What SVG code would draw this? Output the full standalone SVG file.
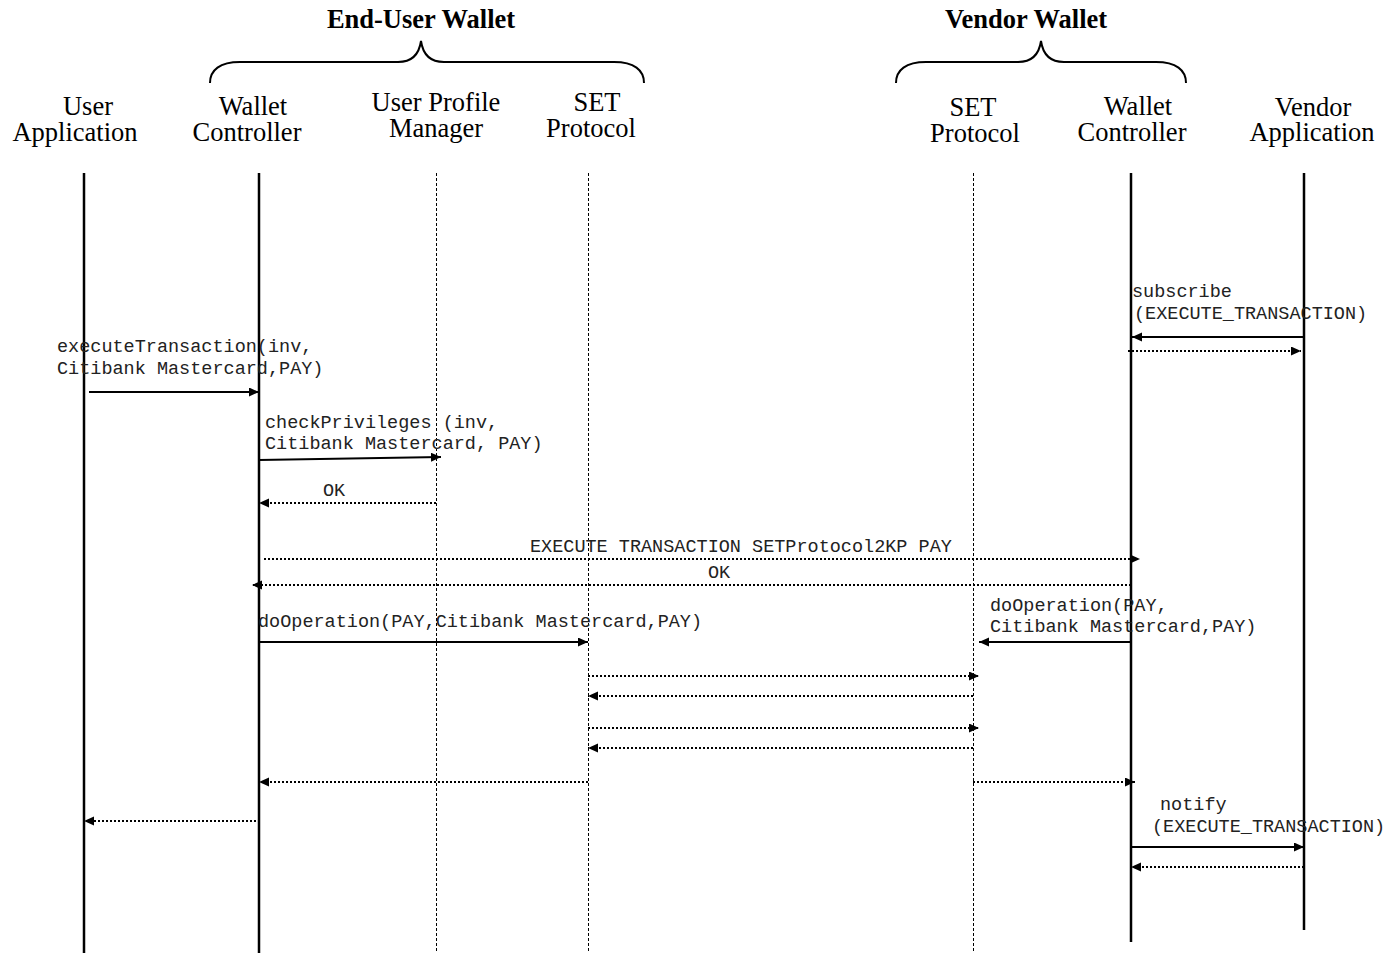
<svg xmlns="http://www.w3.org/2000/svg" width="1383" height="953" viewBox="0 0 1383 953">
<style>
.hdr{font-family:"Liberation Serif","Times New Roman",serif;font-size:26.5px;fill:#000;text-anchor:middle}
.ttl{font-family:"Liberation Serif","Times New Roman",serif;font-size:26.5px;font-weight:bold;fill:#000;text-anchor:middle}
.msg{font-family:"Liberation Mono","Courier New",monospace;font-size:18.5px;fill:#222}
.solid{stroke:#000;stroke-width:2.5;fill:none}
.dash{stroke:#000;stroke-width:1;stroke-dasharray:3,2;fill:none}
.call{stroke:#000;stroke-width:2;fill:none;marker-end:url(#ah)}
.ret{stroke:#000;stroke-width:2;stroke-dasharray:2,2;fill:none;marker-end:url(#ah)}
.brace{stroke:#000;stroke-width:2;fill:none}
</style>
<defs>
<marker id="ah" markerUnits="userSpaceOnUse" markerWidth="11" markerHeight="10" refX="10" refY="4.5" orient="auto">
<path d="M0,0 L10,4.5 L0,9 z" fill="#000"/>
</marker>
</defs>
<rect width="1383" height="953" fill="#fff"/>
<g id="group-enduser">
<text class="ttl" x="421" y="28">End-User Wallet</text>
<path class="brace" d="M210,83 C210,70 220,62 240,62 L398,62 C412,62 419,55 421,41 C423,55 430,62 444,62 L614,62 C634,62 644,70 644,83"/>
</g>
<g id="group-vendor">
<text class="ttl" x="1026" y="28">Vendor Wallet</text>
<path class="brace" d="M896,83 C896,70 906,62 926,62 L1018,62 C1032,62 1039,55 1041,41 C1043,55 1050,62 1064,62 L1156,62 C1176,62 1186,70 1186,83"/>
</g>
<g id="user-application">
<text class="hdr"><tspan x="88" y="115">User</tspan><tspan x="75" y="141">Application</tspan></text>
<line class="solid" x1="84" y1="173" x2="84" y2="953"/>
</g>
<g id="wallet-controller-left">
<text class="hdr"><tspan x="253" y="115">Wallet</tspan><tspan x="247" y="141">Controller</tspan></text>
<line class="solid" x1="259" y1="173" x2="259" y2="953"/>
</g>
<g id="user-profile-manager">
<text class="hdr"><tspan x="436" y="111">User Profile</tspan><tspan x="436" y="137">Manager</tspan></text>
<line class="dash" x1="436.5" y1="173" x2="436.5" y2="953"/>
</g>
<g id="set-protocol-left">
<text class="hdr"><tspan x="597" y="111">SET</tspan><tspan x="591" y="137">Protocol</tspan></text>
<line class="dash" x1="588.5" y1="173" x2="588.5" y2="953"/>
</g>
<g id="set-protocol-right">
<text class="hdr"><tspan x="973" y="116">SET</tspan><tspan x="975" y="142">Protocol</tspan></text>
<line class="dash" x1="973.5" y1="173" x2="973.5" y2="953"/>
</g>
<g id="wallet-controller-right">
<text class="hdr"><tspan x="1138" y="115">Wallet</tspan><tspan x="1132" y="141">Controller</tspan></text>
<line class="solid" x1="1131" y1="173" x2="1131" y2="942"/>
</g>
<g id="vendor-application">
<text class="hdr"><tspan x="1313" y="116">Vendor</tspan><tspan x="1312" y="141">Application</tspan></text>
<line class="solid" x1="1304" y1="173" x2="1304" y2="930"/>
</g>
<g id="connectors">
<text class="msg"><tspan x="1132" y="297">subscribe</tspan><tspan x="1134" y="319">(EXECUTE_TRANSACTION)</tspan></text>
<line class="call" x1="1304" y1="337" x2="1132" y2="337"/>
<line class="ret" x1="1128" y1="351" x2="1301" y2="351"/>

<text class="msg"><tspan x="57" y="352">executeTransaction(inv,</tspan><tspan x="57" y="374">Citibank Mastercard,PAY)</tspan></text>
<line class="call" x1="89" y1="392" x2="259" y2="392"/>

<text class="msg"><tspan x="265" y="428">checkPrivileges (inv,</tspan><tspan x="265" y="449">Citibank Mastercard, PAY)</tspan></text>
<line class="call" x1="259" y1="460" x2="441" y2="457"/>

<text class="msg" x="323" y="496">OK</text>
<line class="ret" x1="436" y1="503" x2="259" y2="503"/>

<text class="msg" x="530" y="552">EXECUTE TRANSACTION SETProtocol2KP PAY</text>
<line class="ret" x1="264" y1="559" x2="1140" y2="559"/>

<text class="msg" x="708" y="578">OK</text>
<line class="ret" x1="1131" y1="585" x2="252" y2="585"/>

<text class="msg" x="258" y="627">doOperation(PAY,Citibank Mastercard,PAY)</text>
<line class="call" x1="259" y1="642" x2="588" y2="642"/>

<text class="msg"><tspan x="990" y="611">doOperation(PAY,</tspan><tspan x="990" y="632">Citibank Mastercard,PAY)</tspan></text>
<line class="call" x1="1131" y1="642" x2="979" y2="642"/>

<line class="ret" x1="588" y1="676" x2="979" y2="676"/>
<line class="ret" x1="973" y1="696" x2="588" y2="696"/>
<line class="ret" x1="588" y1="728" x2="979" y2="728"/>
<line class="ret" x1="973" y1="748" x2="588" y2="748"/>
<line class="ret" x1="588" y1="782" x2="259" y2="782"/>
<line class="ret" x1="973" y1="782" x2="1135" y2="782"/>
<line class="ret" x1="256" y1="821" x2="84" y2="821"/>

<text class="msg"><tspan x="1160" y="810">notify</tspan><tspan x="1152" y="832">(EXECUTE_TRANSACTION)</tspan></text>
<line class="call" x1="1131" y1="847" x2="1304" y2="847"/>
<line class="ret" x1="1304" y1="867" x2="1131" y2="867"/>
</g>
</svg>
